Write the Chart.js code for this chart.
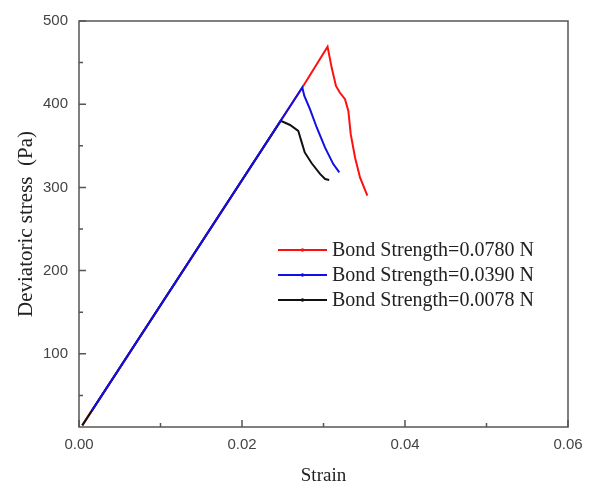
<!DOCTYPE html>
<html>
<head>
<meta charset="utf-8">
<script src="https://cdn.jsdelivr.net/npm/chart.js@4.4.0/dist/chart.umd.min.js"></script>
<style>
  html, body { margin: 0; padding: 0; background: #fff; }
  #wrap { width: 592px; height: 486px; }
</style>
</head>
<body>
<div id="wrap"><canvas id="myChart" width="592" height="486"></canvas></div>
<script>
'use strict';

// axis ticks
let xMajor = [0, 0.02, 0.04, 0.06];
let xMinor = [0.01, 0.03, 0.05];
let yMajor = [100, 200, 300, 400, 500];
let yMinor = [50, 150, 250, 350, 450];

let seriesNames = ['Bond Strength=0.0780 N', 'Bond Strength=0.0390 N', 'Bond Strength=0.0078 N'];
let seriesColors = ['#ff1010', '#1010e6', '#111111'];

// strain / deviatoric stress (Pa) for each bond strength
let redStrain = [0.0004, 0.0274, 0.0305, 0.0310, 0.03153, 0.0320, 0.03264, 0.03305, 0.03334, 0.03387, 0.03448, 0.03538];
let redStress = [14, 420, 469, 444, 422, 414, 406, 392, 364, 336, 312, 290];

let blueStrain = [0.0016, 0.0274, 0.02765, 0.02834, 0.02917, 0.03018, 0.0312, 0.03194];
let blueStress = [32, 420, 410, 394, 372, 348, 328, 318];

let blackStrain = [0.0004, 0.02475, 0.0259, 0.0269, 0.0273, 0.0277, 0.02855, 0.0296, 0.0302, 0.0307];
let blackStress = [14, 380, 375, 368, 355, 342, 329, 316, 310, 309];

function toPoints(xs, ys) {
  return xs.map((x, i) => ({ x: x, y: ys[i] }));
}

let frame = {
  id: 'frame',
  afterDraw(chart) {
    let ctx = chart.ctx;
    let a = chart.chartArea;
    let xs = chart.scales.x;
    let ys = chart.scales.y;
    ctx.save();
    ctx.strokeStyle = '#555';
    ctx.lineWidth = 1.5;
    ctx.strokeRect(a.left, a.top, a.right - a.left, a.bottom - a.top);
    ctx.beginPath();
    // inward ticks on bottom and left
    xMajor.forEach(v => { let p = xs.getPixelForValue(v); ctx.moveTo(p, a.bottom); ctx.lineTo(p, a.bottom - 7); });
    xMinor.forEach(v => { let p = xs.getPixelForValue(v); ctx.moveTo(p, a.bottom); ctx.lineTo(p, a.bottom - 4); });
    yMajor.forEach(v => { let p = ys.getPixelForValue(v); ctx.moveTo(a.left, p); ctx.lineTo(a.left + 7, p); });
    yMinor.forEach(v => { let p = ys.getPixelForValue(v); ctx.moveTo(a.left, p); ctx.lineTo(a.left + 4, p); });
    ctx.stroke();
    ctx.restore();
  }
};

let legendBox = {
  id: 'legendBox',
  afterDraw(chart) {
    let ctx = chart.ctx;
    let x0 = 278, x1 = 327, y0 = 250, gap = 25;
    ctx.save();
    ctx.font = '20px "Liberation Serif", "Times New Roman", serif';
    ctx.textBaseline = 'middle';
    chart.data.datasets.forEach((ds, i) => {
      let y = y0 + i * gap;
      ctx.strokeStyle = ds.borderColor;
      ctx.lineWidth = 2;
      ctx.beginPath();
      ctx.moveTo(x0, y);
      ctx.lineTo(x1, y);
      ctx.stroke();
      ctx.fillStyle = ds.borderColor;
      ctx.beginPath();
      ctx.arc((x0 + x1) / 2, y, 1.8, 0, Math.PI * 2);
      ctx.fill();
      ctx.fillStyle = '#222';
      ctx.fillText(ds.label, x1 + 5, y + 1);
    });
    ctx.restore();
  }
};

let datasets = [
  { label: seriesNames[0], data: toPoints(redStrain, redStress), borderColor: seriesColors[0], order: 2 },
  { label: seriesNames[1], data: toPoints(blueStrain, blueStress), borderColor: seriesColors[1], order: 0 },
  { label: seriesNames[2], data: toPoints(blackStrain, blackStress), borderColor: seriesColors[2], order: 1 }
];
datasets.forEach(d => {
  d.showLine = true;
  d.pointRadius = 0;
  d.borderWidth = 2;
  d.tension = 0;
  d.fill = false;
});

let ctx = document.getElementById('myChart').getContext('2d');
let myChart = new Chart(ctx, {
  type: 'scatter',
  data: { datasets: datasets },
  plugins: [frame, legendBox],
  options: {
    responsive: false,
    animation: false,
    devicePixelRatio: 1,
    layout: { padding: { top: 21, right: 24, left: 0, bottom: 0 } },
    plugins: { legend: { display: false }, tooltip: { enabled: false } },
    scales: {
      x: {
        type: 'linear',
        min: 0,
        max: 0.06,
        grid: { display: false, drawTicks: false },
        border: { display: false },
        afterBuildTicks: s => { s.ticks = xMajor.map(v => ({ value: v })); },
        afterFit: s => { s.height = 59; },
        ticks: {
          padding: 9,
          color: '#444',
          font: { family: '"Liberation Sans", Arial, sans-serif', size: 15 },
          callback: v => v.toFixed(2)
        },
        title: {
          display: true,
          text: 'Strain',
          color: '#222',
          font: { family: '"Liberation Serif", "Times New Roman", serif', size: 19, lineHeight: 1 },
          padding: { top: 0, bottom: 0 }
        }
      },
      y: {
        type: 'linear',
        min: 12,
        max: 500,
        grid: { display: false, drawTicks: false },
        border: { display: false },
        afterBuildTicks: s => { s.ticks = yMajor.map(v => ({ value: v })); },
        afterFit: s => { s.width = 79; },
        ticks: {
          padding: 11,
          color: '#444',
          font: { family: '"Liberation Sans", Arial, sans-serif', size: 15 }
        },
        title: {
          display: true,
          text: 'Deviatoric stress  (Pa)',
          color: '#222',
          font: { family: '"Liberation Serif", "Times New Roman", serif', size: 21, lineHeight: 1 },
          padding: { top: 16, bottom: 0 }
        }
      }
    }
  }
});
</script>
</body>
</html>
